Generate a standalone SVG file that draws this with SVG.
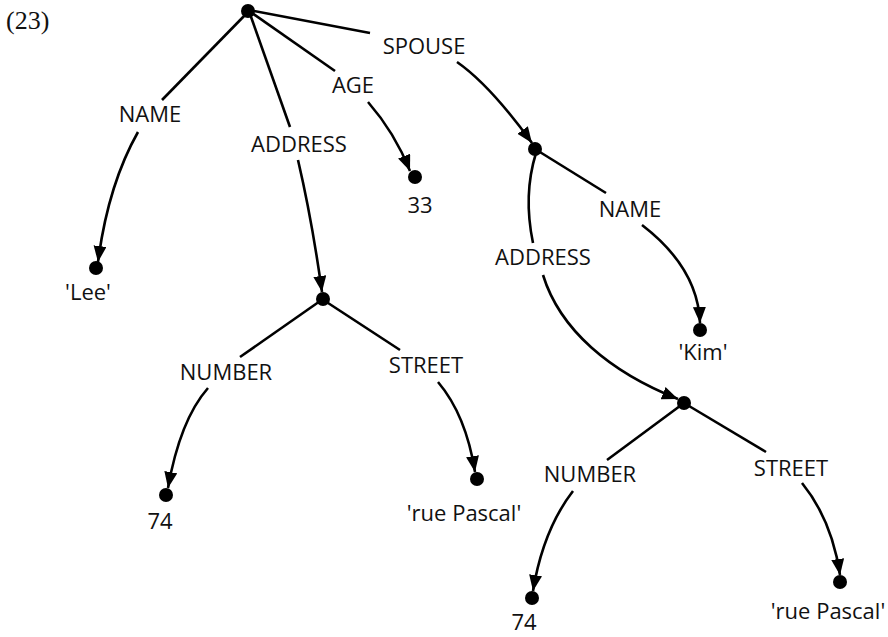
<svg xmlns="http://www.w3.org/2000/svg" width="888" height="637" viewBox="0 0 888 637">
<style>
.lbl{font-family:"Open Sans","Liberation Sans",sans-serif;font-size:22px;fill:#111;text-anchor:middle}
.num{font-family:"Liberation Serif",serif;font-size:26px;fill:#111}
.e{fill:none;stroke:#000;stroke-width:2.6}
.a{marker-end:url(#arr)}
.n{fill:#000}
</style>
<defs>
<marker id="arr" markerUnits="userSpaceOnUse" markerWidth="17" markerHeight="14" refX="16" refY="6.5" orient="auto">
<path d="M0,0 L16,6.5 L0,13 z" fill="#000"/>
</marker>
</defs>
<rect width="888" height="637" fill="#fff"/>
<text class="num" x="6" y="29">(23)</text>
<g id="connectors">
<path class="e" d="M248,12 L162,100"/>
<path class="e a" d="M138,132 Q108,185 98,262"/>
<path class="e" d="M250,14 L290,127"/>
<path class="e a" d="M298,160 Q312,220 322,292"/>
<path class="e" d="M252,13 L335,71"/>
<path class="e a" d="M368,102 Q395,133 410,171"/>
<path class="e" d="M254,11 L370,33"/>
<path class="e a" d="M457,62 Q490,85 532,143"/>
<path class="e" d="M535,149 L606,193"/>
<path class="e a" d="M642,225 Q698,268 700,323"/>
<path class="e" d="M536,153 Q523,195 533,243"/>
<path class="e a" d="M543,275 C560,330 610,372 678,399"/>
<path class="e" d="M684,403 L607,460"/>
<path class="e a" d="M573,491 Q543,530 533,591"/>
<path class="e" d="M684,403 L766,452"/>
<path class="e a" d="M802,483 Q832,520 840,575"/>
<path class="e" d="M323,299 L240,357"/>
<path class="e a" d="M208,388 Q180,420 168,488"/>
<path class="e" d="M325,301 L400,350"/>
<path class="e a" d="M438,382 Q466,415 475,472"/>
</g>
<g id="labels">
<text class="lbl" x="150" y="122">NAME</text>
<text class="lbl" x="299" y="152">ADDRESS</text>
<text class="lbl" x="353" y="93">AGE</text>
<text class="lbl" x="424" y="54">SPOUSE</text>
<text class="lbl" x="630" y="217">NAME</text>
<text class="lbl" x="543" y="265">ADDRESS</text>
<text class="lbl" x="226" y="380">NUMBER</text>
<text class="lbl" x="426" y="373">STREET</text>
<text class="lbl" x="590" y="482">NUMBER</text>
<text class="lbl" x="791" y="476">STREET</text>
</g>
<g id="root"><circle class="n" cx="248" cy="11" r="7"/></g>
<g id="lee"><circle class="n" cx="96" cy="268" r="7"/><text class="lbl" x="88" y="300">'Lee'</text></g>
<g id="address1"><circle class="n" cx="323" cy="299" r="7"/></g>
<g id="age33"><circle class="n" cx="415" cy="177" r="7"/><text class="lbl" x="420" y="213">33</text></g>
<g id="spouse"><circle class="n" cx="535" cy="149" r="7"/></g>
<g id="kim"><circle class="n" cx="700" cy="330" r="7"/><text class="lbl" x="703" y="360">'Kim'</text></g>
<g id="address2"><circle class="n" cx="684" cy="403" r="7"/></g>
<g id="num1"><circle class="n" cx="166" cy="495" r="7"/><text class="lbl" x="160" y="529">74</text></g>
<g id="street1"><circle class="n" cx="477" cy="479" r="7"/><text class="lbl" x="464" y="521">'rue Pascal'</text></g>
<g id="num2"><circle class="n" cx="532" cy="598" r="7"/><text class="lbl" x="524" y="630">74</text></g>
<g id="street2"><circle class="n" cx="840" cy="582" r="7"/><text class="lbl" x="828" y="619">'rue Pascal'</text></g>
</svg>
